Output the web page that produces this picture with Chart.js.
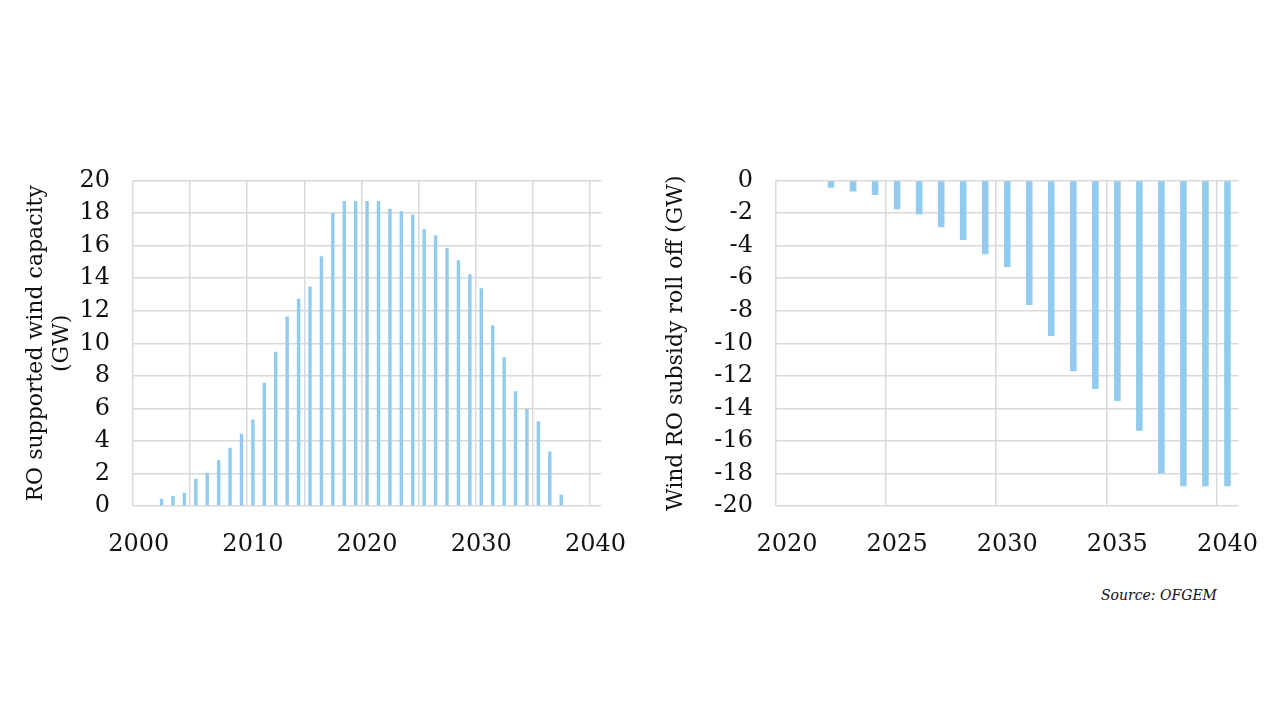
<!DOCTYPE html>
<html>
<head>
<meta charset="utf-8">
<script src="https://cdn.jsdelivr.net/npm/chart.js@4"></script>
<style>
  body { margin: 0; background: #fff; width: 1280px; height: 720px; position: relative; overflow: hidden; }
  .box { position: absolute; }
  #left { left: 0px; top: 143px; width: 650px; height: 440px; }
  #right { left: 640px; top: 143px; width: 642px; height: 440px; }
  #source { position: absolute; left: 1101px; top: 587px; font: italic 14px "DejaVu Serif", serif; color: #111; }
</style>
</head>
<body>
<div class="box" id="left"><canvas id="capChart"></canvas></div>
<div class="box" id="right"><canvas id="rollChart"></canvas></div>
<div id="source">Source: OFGEM</div>
<script>
// left chart: RO supported wind capacity, 2000-2040
const capYears = ["2000","2001","2002","2003","2004","2005","2006","2007","2008","2009",
  "2010","2011","2012","2013","2014","2015","2016","2017","2018","2019",
  "2020","2021","2022","2023","2024","2025","2026","2027","2028","2029",
  "2030","2031","2032","2033","2034","2035","2036","2037","2038","2039","2040"];
const capValues = [null, null, 0.45, 0.62, 0.82, 1.69, 2.06, 2.82, 3.59, 4.45,
  5.32, 7.58, 9.48, 11.64, 12.74, 13.48, 15.34, 18.0, 18.74, 18.74,
  18.74, 18.74, 18.26, 18.1, 17.89, 17.0, 16.63, 15.85, 15.1, 14.24,
  13.38, 11.11, 9.15, 7.05, 5.96, 5.21, 3.36, 0.72, null, null, null];

// right chart: subsidy roll off, 2020-2040
const rollYears = ["2020","2021","2022","2023","2024","2025","2026","2027","2028","2029",
  "2030","2031","2032","2033","2034","2035","2036","2037","2038","2039","2040"];
const rollValues = [null, null, -0.45, -0.68, -0.9, -1.77, -2.08, -2.88, -3.66, -4.53,
  -5.31, -7.65, -9.55, -11.71, -12.8, -13.54, -15.37, -18.0, -18.77, -18.77, -18.77];

const barColor = "#93CBEE";
const gridColor = "#d9d9d9";
const font = { family: "'DejaVu Serif', serif", size: 24 };
const titleFont = { family: "'DejaVu Serif', serif", size: 22 };

Chart.defaults.color = "#111";
Chart.defaults.font = font;

function buildChart(id, labels, values, opts) {
  return new Chart(document.getElementById(id), {
    type: "bar",
    data: {
      labels: labels,
      datasets: [{
        data: values,
        backgroundColor: barColor,
        barPercentage: 0.3,
        categoryPercentage: 1
      }]
    },
    options: {
      responsive: true,
      maintainAspectRatio: false,
      animation: false,
      layout: { padding: { left: 0, top: 16, right: 0, bottom: 0 } },
      plugins: { legend: { display: false }, tooltip: { enabled: false } },
      scales: {
        x: {
          offset: true,
          border: { display: false },
          grid: {
            offset: true,
            drawTicks: false,
            lineWidth: 1.5,
            color: (ctx) => {
              if (ctx.index === undefined || ctx.tick === undefined) return "transparent";
              return Number(labels[ctx.index]) % 5 === 0 ? gridColor : "transparent";
            }
          },
          ticks: {
            autoSkip: false,
            maxRotation: 0,
            padding: 24,
            callback: (v, i) => (Number(labels[i]) % opts.labelEvery === 0 ? labels[i] : "")
          }
        },
        y: {
          min: opts.min,
          max: opts.max,
          border: { display: false },
          grid: { drawTicks: false, color: gridColor, lineWidth: 1.5 },
          ticks: { stepSize: 2, autoSkip: false, padding: 23 },
          title: {
            display: true,
            text: opts.title,
            font: titleFont,
            padding: { top: 23, bottom: 0 }
          },
          afterFit: (scale) => { scale.width = opts.axisWidth; }
        }
      }
    }
  });
}

buildChart("capChart", capYears, capValues, {
  min: 0, max: 20, labelEvery: 10, axisWidth: 133,
  title: ["RO supported wind capacity", "(GW)"]
});

buildChart("rollChart", rollYears, rollValues, {
  min: -20, max: 0, labelEvery: 5, axisWidth: 136,
  title: "Wind RO subsidy roll off (GW)"
});
</script>
</body>
</html>
